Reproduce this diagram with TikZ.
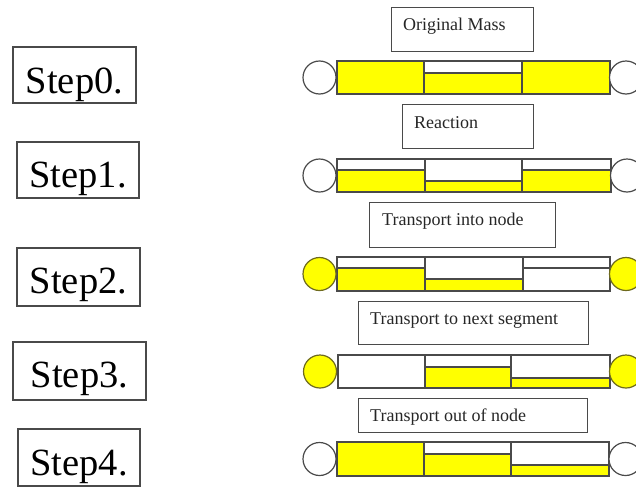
\documentclass[tikz,border=0pt]{standalone}
\usepackage{fontspec}
\setmainfont{Liberation Serif}
\definecolor{edge}{HTML}{4A4A4A}
\definecolor{oliveedge}{HTML}{6E6A1E}
\definecolor{fillY}{HTML}{FFFF00}
\tikzset{
  outl/.style={draw=edge, line width=1.3pt},
  labbox/.style={draw=edge, line width=1.2pt, anchor=north west, inner sep=0pt},
  labtext/.style={anchor=base west, inner sep=0pt, font=\fontsize{18}{20}\selectfont, text=black!85},
  stepbox/.style={draw=edge, line width=1.2pt, anchor=base, inner xsep=0pt, inner ysep=0pt, font=\fontsize{38.5}{42}\selectfont},
  emptyC/.style={circle, draw=edge, line width=1.2pt, fill=white, minimum size=33pt, inner sep=0pt},
  fullC/.style={circle, draw=oliveedge, line width=1.2pt, fill=fillY, minimum size=33pt, inner sep=0pt},
  yel/.style={fill=fillY},
}
\begin{document}
\begin{tikzpicture}[x=1pt,y=-1pt]
\useasboundingbox (0,0) rectangle (636,490);
% step labels
\node[stepbox, minimum width=123pt, text height=46pt, text depth=10pt] (s0) at (74.5,93) {Step0.};
\node[stepbox, minimum width=122pt, text height=45pt, text depth=11pt] (s1) at (78,187) {Step1.};
\node[stepbox, minimum width=123pt, text height=45pt, text depth=13pt] (s2) at (78.5,293) {Step2.};
\node[stepbox, minimum width=133pt, text height=45pt, text depth=13pt] (s3) at (79.5,387) {Step3.};
\node[stepbox, minimum width=122pt, text height=46pt, text depth=11pt] (s4) at (79,475) {Step4.};
% description boxes
\node[labbox, minimum width=142pt, minimum height=44pt] (b0) at (391,7) {};
\node[labtext] (t0) at (403,30) {Original Mass};
\node[labbox, minimum width=131pt, minimum height=44pt] (b1) at (402,104) {};
\node[labtext] (t1) at (414,128) {Reaction};
\node[labbox, minimum width=186pt, minimum height=45pt] (b2) at (369,202) {};
\node[labtext] (t2) at (382,225) {Transport into node};
\node[labbox, minimum width=230pt, minimum height=43pt] (b3) at (358,301) {};
\node[labtext] (t3) at (370,324) {Transport to next segment};
\node[labbox, minimum width=229pt, minimum height=34pt] (b4) at (358,398) {};
\node[labtext] (t4) at (370,421) {Transport out of node};
% row 0
\fill[yel] (337,61) rectangle (424,94);
\fill[yel] (424,73) rectangle (522,94);
\fill[yel] (522,61) rectangle (610,94);
\draw[outl] (424,73) -- (522,73);
\draw[outl] (337,61) rectangle (610,94) (424,61) -- (424,94) (522,61) -- (522,94);
\node[emptyC] (c0l) at (319.5,77.5) {};
\node[emptyC] (c0r) at (626,77.5) {};
% row 1
\fill[yel] (337,170) rectangle (425,192);
\fill[yel] (425,181) rectangle (522,192);
\fill[yel] (522,170) rectangle (611,192);
\draw[outl] (337,170) -- (425,170) (425,181) -- (522,181) (522,170) -- (611,170);
\draw[outl] (337,159) rectangle (611,192) (425,159) -- (425,192) (522,159) -- (522,192);
\node[emptyC] (c1l) at (319.5,175.5) {};
\node[emptyC] (c1r) at (627,175.5) {};
% row 2
\fill[yel] (337,268) rectangle (425,291);
\fill[yel] (425,279) rectangle (523,291);
\draw[outl] (337,268) -- (425,268) (425,279) -- (523,279) (523,268) -- (610,268);
\draw[outl] (337,257) rectangle (610,291) (425,257) -- (425,291) (523,257) -- (523,291);
\node[fullC] (c2l) at (319.5,274) {};
\node[fullC] (c2r) at (626,274) {};
% row 3
\fill[yel] (425,367) rectangle (511,388);
\fill[yel] (511,378) rectangle (610,388);
\draw[outl] (425,367) -- (511,367) (511,378) -- (610,378);
\draw[outl] (338,355) rectangle (610,388) (425,355) -- (425,388) (511,355) -- (511,388);
\node[fullC] (c3l) at (320,371.5) {};
\node[fullC] (c3r) at (626,371.5) {};
% row 4
\fill[yel] (337,442) rectangle (424,476);
\fill[yel] (424,454) rectangle (511,476);
\fill[yel] (511,465) rectangle (609,476);
\draw[outl] (424,454) -- (511,454) (511,465) -- (609,465);
\draw[outl] (337,442) rectangle (609,476) (424,442) -- (424,476) (511,442) -- (511,476);
\node[emptyC] (c4l) at (319.5,459) {};
\node[emptyC] (c4r) at (625.5,459) {};
\end{tikzpicture}
\end{document}
